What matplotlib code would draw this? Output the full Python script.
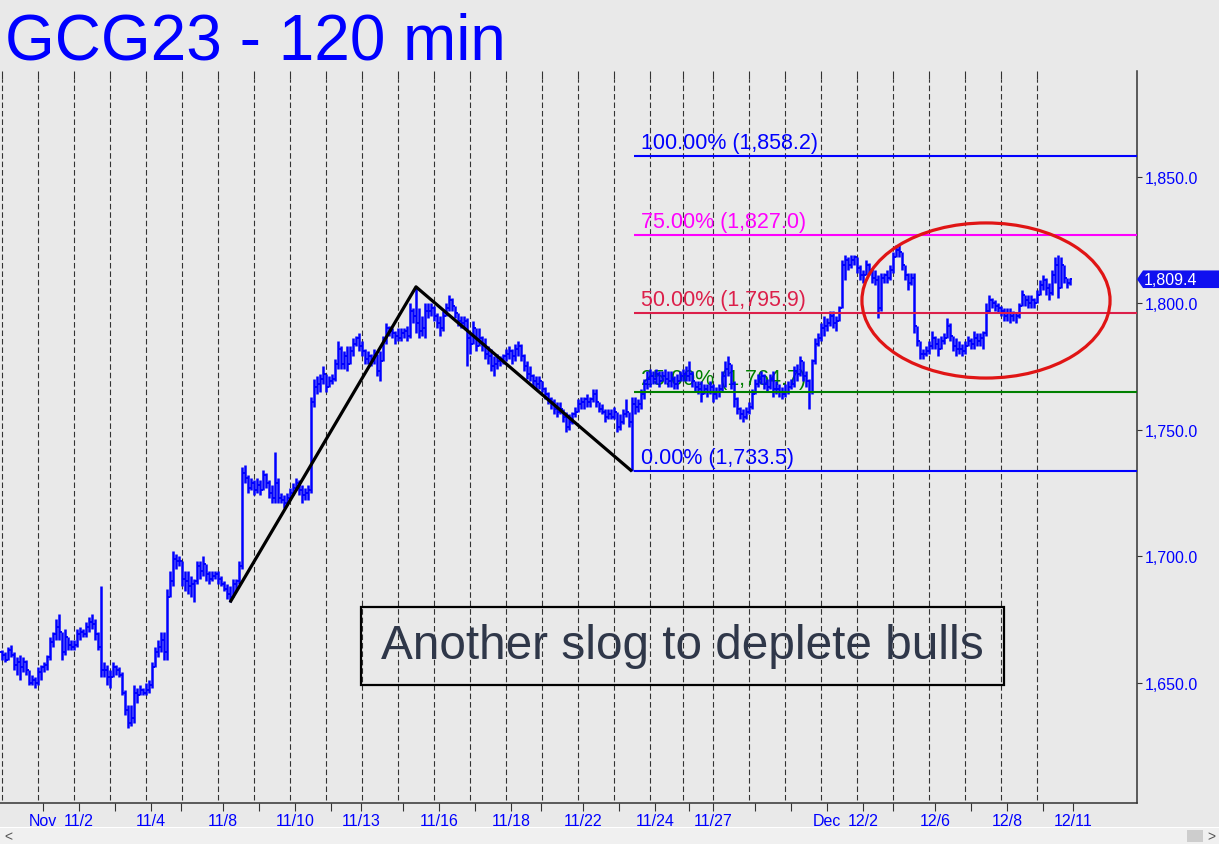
import matplotlib
matplotlib.use("Agg")
import matplotlib.pyplot as plt
from matplotlib.collections import LineCollection
from matplotlib.patches import Ellipse, Rectangle, Polygon
import matplotlib.transforms as mtransforms

plt.rcParams['font.family'] = ['Liberation Sans', 'DejaVu Sans']

# ---------------- data (120-minute bars, GCG23) ----------------
highs = [
1663,1662,1664,1665,1662,1660,1661,1660,1659,1655,1653,1652,
1656,1657,1658,1661,1668,1670,1675,1677,1670,1671,1668,1667,
1667,1671,1672,1671,1674,1676,1677,1675,1670,1688,1658,1657,
1655,1658,1657,1656,1654,1647,1641,1641,1649,1648,1649,1648,
1650,1651,1658,1664,1667,1670,1670,1687,1694,1702,1701,1700,
1698,1694,1694,1692,1691,1698,1698,1700,1697,1694,1694,1694,
1694,1692,1690,1689,1688,1691,1691,1698,1735,1736,1732,1731,
1730,1731,1730,1734,1733,1730,1728,1741,1731,1725,1724,1725,
1727,1729,1731,1730,1728,1727,1728,1763,1770,1771,1772,1775,
1771,1771,1772,1778,1785,1783,1781,1783,1783,1786,1787,1788,
1785,1782,1781,1780,1782,1779,1781,1787,1792,1791,1790,1789,
1790,1790,1790,1791,1800,1798,1806.4,1798,1795,1800,1800,1800,
1799,1796,1795,1797,1800,1803,1802,1799,1796,1795,1795,1794,
1788,1793,1788,1790,1787,1786,1783,1782,1779,1780,1779,1780,
1782,1783,1782,1784,1785,1784,1780,1777,1775,1772,1771,1771,
1769,1767,1765,1763,1762,1761,1761,1758,1757,1756,1757,1759,
1762,1763,1763,1764,1763,1766,1766,1761,1760,1758,1758,1758,
1759,1757,1756,1758,1762,1757,1763,1763,1762,1766,1770,1773,
1774,1773,1774,1773,1773,1774,1773,1773,1771,1772,1773,1774,
1775,1777,1773,1769,1769,1769,1768,1768,1769,1768,1767,1768,
1773,1777,1779,1775,1769,1763,1759,1758,1759,1761,1766,1770,
1772,1773,1772,1770,1772,1773,1769,1768,1767,1768,1769,1770,
1775,1776,1779,1776,1773,1770,1778,1786,1788,1792,1795,1794,
1797,1797,1795,1799,1817,1819,1818,1819,1819,1817,1815,1813,
1817,1816,1814,1813,1811,1812,1812,1813,1815,1820,1823,1823.5,
1820,1814,1812,1812,1812,1791,1783,1782,1783,1785,1789,1787,
1786,1787,1788,1794,1792,1787,1786,1785,1784,1785,1787,1786,
1789,1788,1788,1789,1800,1803,1802,1801,1800,1799,1798,1798,
1798,1797,1796,1800,1805,1803,1803,1803,1802,1805,1809,1811,
1810,1808,1813,1818,1819,1818,1815,1810,1810]

lows = [
1659,1658,1659,1660,1655,1653,1651,1654,1653,1649,1649,1648,
1649,1651,1654,1655,1659,1664,1667,1667,1659,1661,1663,1663,
1663,1664,1667,1668,1668,1670,1671,1667,1663,1652,1652,1649,
1648,1652,1653,1652,1645,1637,1632,1633,1634,1642,1645,1645,
1645,1646,1648,1656,1660,1662,1659,1659,1684,1688,1695,1696,
1688,1686,1685,1684,1682,1689,1691,1692,1690,1689,1690,1691,
1689,1688,1686,1683,1681.7,1685,1686,1689,1695,1729,1725,1726,
1724,1725,1724,1726,1727,1723,1721,1721,1721,1721,1719,1720,
1722,1724,1726,1724,1721,1722,1722,1725,1759,1764,1765,1768,
1765,1767,1768,1769,1774,1774,1774,1773,1777,1779,1783,1781,
1779,1776,1776,1775,1776,1771,1769,1778,1784,1787,1786,1784,
1785,1785,1786,1785,1786,1792,1788,1786,1787,1786,1794,1795,
1793,1790,1787,1789,1795,1797,1797,1794,1791,1790,1790,1775,
1780,1784,1781,1783,1781,1778,1776,1773,1771,1774,1775,1776,
1777,1778,1776,1777,1779,1777,1773,1770,1769,1767,1766,1766,
1765,1762,1760,1758,1756,1755,1756,1753,1749,1750,1752,1755,
1757,1758,1758,1759,1759,1761,1759,1757,1756,1753,1754,1754,
1754,1749,1750,1752,1755,1751,1733.5,1756,1757,1758,1762,1766,
1767,1768,1768,1767,1769,1768,1767,1767,1766,1766,1769,1769,
1769,1769,1767,1765,1764,1761,1764,1763,1764,1761,1762,1763,
1765,1767,1771,1766,1759,1756,1754,1753,1754,1756,1758,1764,
1767,1768,1766,1765,1766,1763,1764,1763,1762,1763,1764,1766,
1767,1769,1771,1769,1767,1758,1764,1776,1783,1785,1787,1789,
1791,1790,1789,1794,1798,1809,1813,1814,1815,1812,1809,1808,
1811,1811,1808,1807,1794,1797,1808,1808,1809,1812,1818,1818,
1813,1809,1805,1807,1788,1783,1778,1778,1779,1780,1782,1782,
1779,1782,1784,1786,1785,1781,1779,1780,1779,1780,1783,1782,
1782,1783,1783,1782,1787,1796,1798,1797,1796,1795,1793,1793,
1792,1793,1792,1794,1799,1799,1798,1798,1798,1800,1803,1805,
1803,1801,1803,1808,1802,1811,1808,1806,1807]

closes = [
1661,1659,1663,1661,1657,1658,1656,1658,1655,1650,1651,1650,
1654,1656,1657,1660,1666,1669,1672,1670,1662,1668,1665,1664,
1665,1669,1670,1669,1672,1674,1673,1669,1664,1655,1655,1652,
1652,1656,1655,1653,1646,1639,1634,1636,1646,1645,1647,1646,
1647,1649,1656,1662,1664,1667,1662,1684,1690,1699,1698,1698,
1691,1690,1688,1689,1690,1696,1694,1697,1693,1691,1692,1693,
1691,1689,1687,1685,1684,1689,1690,1696,1733,1731,1727,1729,
1726,1728,1726,1732,1729,1725,1723,1729,1723,1722,1721,1723,
1725,1727,1729,1726,1724,1725,1726,1761,1767,1768,1770,1772,
1767,1769,1770,1776,1782,1776,1779,1776,1781,1784,1786,1783,
1781,1778,1779,1777,1780,1773,1777,1785,1790,1789,1788,1787,
1786,1788,1789,1787,1797,1795,1792,1789,1790,1797,1797,1798,
1795,1792,1790,1795,1798,1801,1799,1796,1793,1792,1793,1786,
1784,1790,1783,1786,1784,1780,1779,1775,1776,1777,1778,1779,
1780,1781,1779,1782,1783,1779,1775,1772,1771,1769,1768,1769,
1766,1764,1762,1761,1758,1757,1758,1755,1751,1753,1756,1757,
1760,1761,1762,1761,1762,1764,1761,1758,1757,1755,1756,1755,
1757,1751,1753,1756,1757,1753,1760,1759,1760,1764,1768,1770,
1771,1770,1772,1769,1771,1770,1769,1770,1768,1769,1771,1772,
1771,1772,1769,1767,1766,1764,1766,1765,1767,1764,1765,1766,
1771,1774,1776,1768,1762,1758,1756,1755,1757,1759,1764,1768,
1770,1771,1768,1767,1770,1766,1766,1765,1764,1765,1767,1768,
1773,1772,1777,1771,1769,1765,1777,1784,1786,1790,1791,1792,
1795,1792,1793,1798,1815,1817,1815,1817,1818,1814,1811,1811,
1815,1813,1810,1809,1798,1810,1811,1810,1813,1818,1821,1820,
1815,1811,1808,1810,1791,1785,1780,1780,1781,1783,1786,1784,
1782,1785,1786,1791,1787,1783,1782,1782,1781,1783,1785,1784,
1786,1785,1786,1788,1797,1801,1800,1799,1798,1797,1795,1796,
1795,1796,1795,1799,1803,1801,1800,1801,1800,1803,1807,1809,
1806,1804,1811,1815,1806,1815,1810,1808,1809.4]
first_open = 1662

# ABC pivots (bar index, price)
pivot_a = (76, 1681.68)
pivot_b = (138, 1806.4)
pivot_c = (210, 1733.5)
fib_pcts = [0.0, 25.0, 50.0, 75.0, 100.0]
fib_colors = ['#0000ff', '#008000', '#dc1f4a', '#ff00ff', '#0000ff']

# session boundaries (bar index) and date axis
session_starts = [0, 12, 24, 36, 48, 60, 72, 84, 96, 108, 120, 132, 144, 156,
                  168, 180, 192, 204, 216, 227, 237, 249, 261, 273, 285, 297,
                  309, 321, 333, 345]
date_ticks = [13.7, 25.7, 37.7, 49.7, 59.7, 73.7, 85.7, 97.7, 109.7, 119.7,
              133.7, 145.7, 157.7, 169.7, 179.7, 193.7, 205.7, 217.7, 229,
              237, 251, 263, 275, 287, 297, 311, 323, 335, 347, 357]
date_labels = ['Nov', '11/2', '', '11/4', '', '11/8', '', '11/10', '', '11/13',
               '', '11/16', '', '11/18', '', '11/22', '', '11/24', '', '11/27',
               '', '', 'Dec', '12/2', '', '12/6', '', '12/8', '', '12/11']
price_ticks = [1650, 1700, 1750, 1800, 1850]

# zone of interest (ellipse) and note
zone_center = (328, 1801)
zone_size = (82.7, 61.3)
title = "GCG23 - 120 min"
note = "Another slog to deplete bulls"

# ---------------- figure ----------------
W, H = 1219, 845
BG = '#e9e9e9'
BLUE = '#0000ff'
fig = plt.figure(figsize=(W / 100, H / 100), dpi=100)
fig.patch.set_facecolor(BG)
ax_top, ax_bot, ax_right = 72, 804, 1137
ax = fig.add_axes([0, (H - ax_bot) / H, ax_right / W, (ax_bot - ax_top) / H])
ax.set_facecolor(BG)
ax.set_xlim(-2 / 3, (ax_right - 2) / 3)
ax.set_ylim(1602.4, 1891.7)

# OHLC bars
n = min(len(highs), len(lows), len(closes))
opens = [first_open] + closes[:n - 1]
vsegs, tsegs = [], []
for i in range(n):
    lo = min(lows[i], opens[i], closes[i])
    hi = max(highs[i], opens[i], closes[i])
    vsegs.append([(i, lo), (i, hi)])
    tsegs.append([(i - 0.55, opens[i]), (i, opens[i])])
    tsegs.append([(i, closes[i]), (i + 0.55, closes[i])])
ax.add_collection(LineCollection(vsegs, colors=BLUE, linewidths=1.8, zorder=3,
                                 capstyle='butt'))
ax.add_collection(LineCollection(tsegs, colors=BLUE, linewidths=1.4, zorder=3,
                                 capstyle='butt'))

# vertical session grid
xtr = ax.get_xaxis_transform()
span = ax_bot - ax_top
ax.vlines(session_starts, 3 / span, 1 - 8 / span, transform=xtr, colors='#333333',
          linewidth=0.8, linestyles=(0, (5, 2.6)), zorder=1)
ax.vlines(session_starts, 1 - 8 / span, 1, transform=xtr, colors='#333333',
          linewidth=0.8, zorder=1)

# ABC swing lines
ax.plot([pivot_a[0], pivot_b[0], pivot_c[0]], [pivot_a[1], pivot_b[1], pivot_c[1]],
        color='black', lw=2.3, zorder=5, solid_capstyle='butt')

# Fibonacci levels
rng = pivot_b[1] - pivot_a[1]
xmax = ax.get_xlim()[1]
for pct, col in zip(fib_pcts, fib_colors):
    lvl = pivot_c[1] + rng * pct / 100.0
    ax.plot([pivot_c[0] + 0.6, xmax], [lvl, lvl], color=col, lw=1.5, zorder=4,
            solid_capstyle='butt')
    ax.annotate(f"{pct:.2f}% ({lvl:,.1f})", xy=(pivot_c[0], lvl),
                xytext=(6.5, 5.8), textcoords='offset points', color=col,
                fontsize=15.5, va='baseline', ha='left', zorder=2)

# ellipse
ax.add_patch(Ellipse(zone_center, zone_size[0], zone_size[1], fill=False,
                     ec='#e01515', lw=2.3, zorder=6, clip_on=False))

# axes styling
for s in ['left', 'top']:
    ax.spines[s].set_visible(False)
ax.spines['right'].set_color('#333333')
ax.spines['bottom'].set_color('#333333')
ax.spines['right'].set_linewidth(1.1)
ax.spines['bottom'].set_linewidth(1.1)
ax.yaxis.tick_right()
ax.set_yticks(price_ticks)
ax.set_yticklabels([f"{p:,.1f}" for p in price_ticks])
ax.tick_params(axis='y', right=True, left=False, length=3.8, width=0.8,
               color='#333333', labelcolor=BLUE, labelsize=11.5, pad=1.5)
ax.set_xticks(date_ticks)
ax.set_xticklabels(date_labels)
ax.tick_params(axis='x', length=5.8, width=0.8, color='#333333',
               labelcolor=BLUE, labelsize=11.5, pad=1.2)

# last price tag
last = closes[n - 1]
ytr = mtransforms.blended_transform_factory(ax.transAxes, ax.transData)
half = 8.8 / 2.53
tag = Polygon([(1.0, last), (1143 / ax_right, last + half), (W / ax_right, last + half),
               (W / ax_right, last - half), (1143 / ax_right, last - half)],
              closed=True, transform=ytr, fc='#1010f0', ec='none', clip_on=False, zorder=7)
ax.add_patch(tag)
ax.text(1144 / ax_right, last, f"{last:,.1f}", transform=ytr, color='white',
        fontsize=11.5, va='center', ha='left', zorder=8, clip_on=False)

# title
fig.text(5 / W, (H - 60) / H, title, color=BLUE, fontsize=46, ha='left', va='baseline')

# note box
fig.patches.append(Rectangle((361 / W, (H - 686) / H), (1004 - 361) / W, (686 - 608) / H,
                             transform=fig.transFigure, fill=False, ec='black', lw=1.6))
fig.text(682.5 / W, (H - 647) / H, note, color='#2f3749', fontsize=34.4,
         ha='center', va='center')

# scrollbar strip
fig.patches.append(Rectangle((0, 0), 1, (H - 829) / H, transform=fig.transFigure,
                             fc='#f0f0f0', ec='none'))
fig.patches.append(Rectangle((0, (H - 829) / H), 1, 1.2 / H, transform=fig.transFigure,
                             fc='white', ec='none'))
fig.patches.append(Rectangle((1187 / W, (H - 843) / H), 16 / W, 12 / H,
                             transform=fig.transFigure, fc='#cdcdcd', ec='none'))
fig.text(8 / W, (H - 837) / H, '<', color='#555555', fontsize=10, ha='center', va='center')
fig.text(1211 / W, (H - 837) / H, '>', color='#555555', fontsize=10, ha='center', va='center')

fig.savefig('out.png', dpi=100, facecolor=BG)
